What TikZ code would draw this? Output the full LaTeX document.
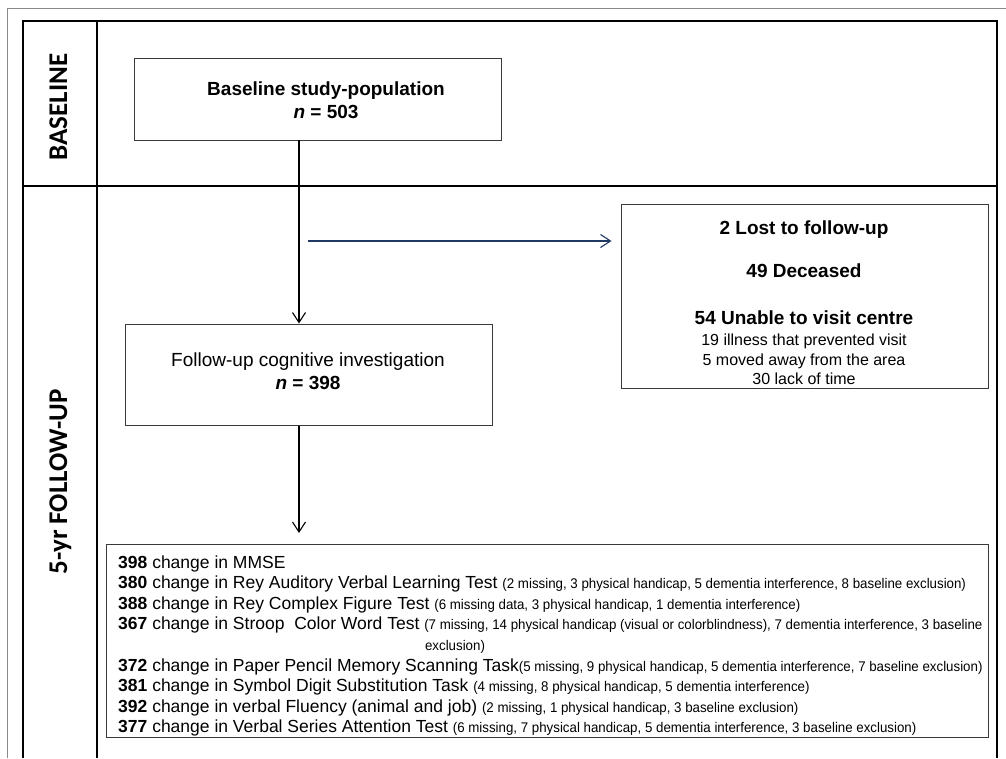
\documentclass[tikz,border=0pt]{standalone}
\usepackage{fontspec}
\setmainfont{Liberation Sans}
\newfontfamily\labelfont{Carlito}
\newfontfamily\narrowfont[FakeStretch=0.95]{Liberation Sans}
\usetikzlibrary{arrows.meta}
\definecolor{navy}{HTML}{1F3864}
\definecolor{boxgray}{HTML}{3A3A3A}
\definecolor{framegray}{HTML}{8A8A8A}
\newcommand\paren[1]{{\narrowfont\fontsize{14}{16}\selectfont #1}}
\begin{document}
\begin{tikzpicture}[x=1pt,y=-1pt,
  box/.style={draw=boxgray,line width=1pt,rectangle,inner sep=0pt},
  arr/.style={line width=1.1pt,-{Straight Barb[length=10pt,width=13pt,line width=1.1pt]}},
  ttl/.style={font=\fontsize{19}{23}\selectfont,align=center,inner sep=0pt},
  ctxt/.style={anchor=base,inner sep=0pt},
  resline/.style={anchor=base west,inner sep=0pt,font=\fontsize{17.5}{20.5}\selectfont},
  sidelabel/.style={rotate=90,anchor=base,inner sep=0pt,font=\labelfont\bfseries\fontsize{27}{30}\selectfont}]
\useasboundingbox (0,0) rectangle (1006,758);
\fill[white] (0,0) rectangle (1006,758);
% outer frame
\draw[framegray,line width=1pt] (7,758) -- (7,8) -- (1006,8);
% table
\draw[line width=1.5pt] (23,758) -- (23,21) -- (997,21) -- (997,758);
\draw[line width=1.2pt] (23,186) -- (997,186);
\draw[line width=2.2pt] (97,21) -- (97,758);
% side labels
\node[sidelabel] (lbase) at (67,107) {BASELINE};
\node[sidelabel] (lfollow) at (67,482) {5-yr FOLLOW-UP};
% baseline box
\node[box,minimum width=367pt,minimum height=82pt] (base) at (317.5,99) {};
\node[ttl] (basetxt) at (326,100) {\textbf{Baseline study-population}\\\textbf{\textit{n} = 503}};
% follow-up box
\node[box,minimum width=367pt,minimum height=101pt] (fu) at (308.5,374.5) {};
\node[ttl] (futxt) at (308,371) {Follow-up cognitive investigation\\\textbf{\textit{n} = 398}};
% lost box
\node[box,minimum width=367pt,minimum height=184pt] (lost) at (804.5,296) {};
\node[ctxt,font=\fontsize{19}{23}\selectfont\bfseries] (l1) at (804,234) {2 Lost to follow-up};
\node[ctxt,font=\fontsize{19}{23}\selectfont\bfseries] (l2) at (804,277) {49 Deceased};
\node[ctxt,font=\fontsize{19}{23}\selectfont\bfseries] (l3) at (804,324) {54 Unable to visit centre};
\node[ctxt,font=\fontsize{16}{19}\selectfont] (l4) at (804,345) {19 illness that prevented visit};
\node[ctxt,font=\fontsize{16}{19}\selectfont] (l5) at (804,365) {5 moved away from the area};
\node[ctxt,font=\fontsize{16}{19}\selectfont] (l6) at (804,384) {30 lack of time};
% results box
\node[box,minimum width=882pt,minimum height=193pt] (res) at (547,640.5) {};
\node[resline] (r1) at (118,568.3) {\textbf{398} change in MMSE};
\node[resline] (r2) at (118,588.3) {\textbf{380} change in Rey Auditory Verbal Learning Test \paren{(2 missing, 3 physical handicap, 5 dementia interference, 8 baseline exclusion)}};
\node[resline] (r3) at (118,609.3) {\textbf{388} change in Rey Complex Figure Test \paren{(6 missing data, 3 physical handicap, 1 dementia interference)}};
\node[resline] (r4) at (118,629.3) {\textbf{367} change in Stroop\ \ Color Word Test \paren{(7 missing, 14 physical handicap (visual or colorblindness), 7 dementia interference, 3 baseline}};
\node[ctxt] (r4b) at (455,650.3) {\paren{exclusion)}};
\node[resline] (r5) at (118,671.3) {\textbf{372} change in Paper Pencil Memory Scanning Task\paren{(5 missing, 9 physical handicap, 5 dementia interference, 7 baseline exclusion)}};
\node[resline] (r6) at (118,691.3) {\textbf{381} change in Symbol Digit Substitution Task \paren{(4 missing, 8 physical handicap, 5 dementia interference)}};
\node[resline] (r7) at (118,712.3) {\textbf{392} change in verbal Fluency (animal and job) \paren{(2 missing, 1 physical handicap, 3 baseline exclusion)}};
\node[resline] (r8) at (118,732.3) {\textbf{377} change in Verbal Series Attention Test \paren{(6 missing, 7 physical handicap, 5 dementia interference, 3 baseline exclusion)}};
% connectors
\coordinate (c1) at (299,140);
\coordinate (tip3) at (299,533);
\coordinate (bstart) at (308,241);
\draw[arr] (c1) -- (c1 |- fu.north);
\draw[arr] (tip3 |- fu.south) -- (tip3);
\draw[arr,navy,shorten >=9pt] (bstart) -- (lost.west |- bstart);
\end{tikzpicture}
\end{document}
